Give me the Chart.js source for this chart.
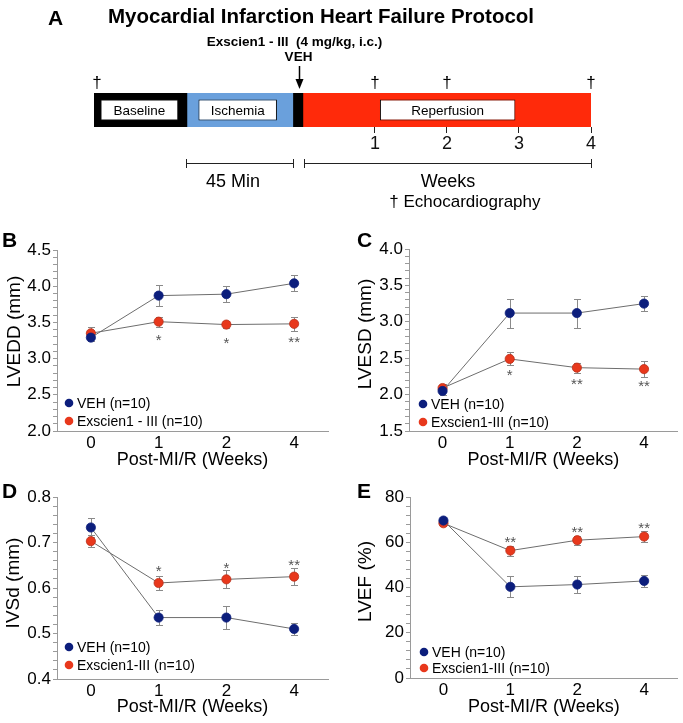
<!DOCTYPE html>
<html>
<head>
<meta charset="utf-8">
<script src="https://cdn.jsdelivr.net/npm/chart.js@4.4.0/dist/chart.umd.min.js"></script>
<style>
  body { margin: 0; background: #fff; width: 683px; height: 723px; position: relative; overflow: hidden;
         font-family: "Liberation Sans", Arial, sans-serif; }
  canvas { position: absolute; }
  .lt { position: absolute; font-weight: bold; font-size: 21px; line-height: 1; color: #000; }
</style>
</head>
<body>
<canvas id="cA" width="683" height="220" style="left:0;top:0"></canvas>
<canvas id="cB" width="341" height="255" style="left:0;top:225px"></canvas>
<canvas id="cC" width="332" height="255" style="left:351px;top:225px"></canvas>
<canvas id="cD" width="341" height="248" style="left:0;top:475px"></canvas>
<canvas id="cE" width="332" height="248" style="left:351px;top:475px"></canvas>
<div class="lt" style="left:48px;top:7px">A</div>
<div class="lt" style="left:2px;top:229px">B</div>
<div class="lt" style="left:357px;top:229px">C</div>
<div class="lt" style="left:2px;top:480px">D</div>
<div class="lt" style="left:357px;top:480px">E</div>

<script>
Chart.defaults.font.family = '"Liberation Sans", Arial, sans-serif';
Chart.defaults.color = '#000';

// ---- Panel A: protocol timeline (x in weeks, 0 = start of reperfusion) ----
const phaseStart = [-2.9, -1.61, -0.14, 0];
const phaseEnd = [-1.61, -0.14, 0, 4];
const phaseColors = ['#000000', '#6aa0dc', '#000000', '#ff2a0a'];
const boxLabels = ['Baseline', 'Ischemia', 'Reperfusion'];
const boxStart = [-2.81, -1.45, 1.07];
const boxEnd = [-1.73, -0.36, 2.95];
const weekTicks = [1, 2, 3, 4];
const echoWeeks = [-2.86, 1, 2, 4];
const doseWeek = -0.06;
const spanStart = [-1.62, 0.01];
const spanEnd = [-0.14, 4];
const spanLabels = ['45 Min', 'Weeks'];

// ---- Panels B-E ----
const weeks = ['0', '1', '2', '4'];
const vehLabel = 'VEH (n=10)';

const lveddVeh = [3.29, 3.87, 3.89, 4.04];
const lveddVehErr = [0.05, 0.15, 0.11, 0.11];
const lveddExs = [3.35, 3.51, 3.47, 3.48];
const lveddExsErr = [0.08, 0.07, 0.05, 0.10];
const lveddStars = ['', '*', '*', '**'];

const lvesdVeh = [2.05, 3.12, 3.12, 3.25];
const lvesdVehErr = [0.05, 0.20, 0.20, 0.10];
const lvesdExs = [2.09, 2.49, 2.37, 2.35];
const lvesdExsErr = [0.05, 0.09, 0.07, 0.11];
const lvesdStars = ['', '*', '**', '**'];

const ivsdVeh = [0.733, 0.535, 0.535, 0.510];
const ivsdVehErr = [0.021, 0.016, 0.026, 0.013];
const ivsdExs = [0.703, 0.611, 0.619, 0.625];
const ivsdExsErr = [0.013, 0.015, 0.020, 0.018];
const ivsdStars = ['', '*', '*', '**'];

const lvefVeh = [69.6, 40.3, 41.3, 42.9];
const lvefVehErr = [1.3, 4.7, 3.7, 2.8];
const lvefExs = [68.4, 56.3, 60.9, 62.5];
const lvefExsErr = [1.0, 2.2, 2.0, 2.3];
const lvefStars = ['', '**', '**', '**'];

const navy = '#0c1e7c';
const red = '#e8381c';
const axisGray = '#9a9a9a';

// protocol diagram
const protocolText = {
  id: 'protocolText',
  afterDraw(chart) {
    const ctx = chart.ctx, x = chart.scales.x, area = chart.chartArea;
    ctx.save();
    ctx.fillStyle = '#000';
    ctx.textBaseline = 'middle';
    ctx.textAlign = 'left';
    ctx.font = 'bold 20.5px "Liberation Sans", Arial';
    ctx.fillText('Myocardial Infarction Heart Failure Protocol', 108, 17);

    ctx.textAlign = 'center';
    ctx.font = '13.5px "Liberation Sans", Arial';
    boxLabels.forEach((t, i) => {
      ctx.fillText(t, x.getPixelForValue((boxStart[i] + boxEnd[i]) / 2), (area.top + area.bottom) / 2 + 1);
    });

    // dose arrow
    const ax = Math.round(x.getPixelForValue(doseWeek)) + 0.5;
    ctx.font = 'bold 13.5px "Liberation Sans", Arial';
    ctx.fillText('Exscien1 - III  (4 mg/kg, i.c.)', ax - 5, 42);
    ctx.fillText('VEH', ax - 1, 57);
    ctx.strokeStyle = '#000';
    ctx.lineWidth = 1.5;
    ctx.beginPath(); ctx.moveTo(ax, 66); ctx.lineTo(ax, 81); ctx.stroke();
    ctx.beginPath(); ctx.moveTo(ax - 4, 79); ctx.lineTo(ax + 4, 79); ctx.lineTo(ax, 89); ctx.closePath(); ctx.fill();

    // echocardiography marks
    ctx.textBaseline = 'alphabetic';
    ctx.font = '17px "Liberation Sans", Arial';
    echoWeeks.forEach(w => ctx.fillText('\u2020', x.getPixelForValue(w), 88));

    // duration brackets
    ctx.strokeStyle = '#222';
    ctx.lineWidth = 1;
    ctx.textBaseline = 'middle';
    ctx.font = '18px "Liberation Sans", Arial';
    spanLabels.forEach((t, i) => {
      const a = Math.round(x.getPixelForValue(spanStart[i])) + 0.5;
      const b = Math.round(x.getPixelForValue(spanEnd[i])) + 0.5;
      ctx.beginPath();
      ctx.moveTo(a, 163.5); ctx.lineTo(b, 163.5);
      ctx.moveTo(a, 159); ctx.lineTo(a, 168);
      ctx.moveTo(b, 159); ctx.lineTo(b, 168);
      ctx.stroke();
      ctx.fillText(t, (a + b) / 2 - (i === 0 ? 7 : 0), 182);
    });
    ctx.textAlign = 'left';
    ctx.font = '17px "Liberation Sans", Arial';
    ctx.fillText('\u2020 Echocardiography', x.getPixelForValue(1.2), 202);
    ctx.restore();
  }
};

new Chart(document.getElementById('cA'), {
  type: 'bar',
  data: {
    labels: ['protocol'],
    datasets: [
      ...boxLabels.map((t, i) => ({
        label: t, data: [[boxStart[i], boxEnd[i]]], backgroundColor: '#ffffff',
        borderColor: '#111', borderWidth: 1, borderSkipped: false,
        grouped: false, barPercentage: 0.62, categoryPercentage: 1, order: 0
      })),
      ...phaseColors.map((c, i) => ({
        label: 'phase' + i, data: [[phaseStart[i], phaseEnd[i]]], backgroundColor: c,
        borderWidth: 0, grouped: false, barPercentage: 1, categoryPercentage: 1, order: 1
      }))
    ]
  },
  options: {
    indexAxis: 'y',
    responsive: false,
    animation: false,
    layout: { padding: { left: 94, right: 92, top: 93, bottom: 0 } },
    plugins: { legend: { display: false }, tooltip: { enabled: false } },
    scales: {
      y: { display: false },
      x: {
        type: 'linear', min: -2.9, max: 4,
        afterBuildTicks(s) { s.ticks = weekTicks.map(v => ({ value: v })); },
        afterFit(s) { s.height = 93; },
        grid: { display: true, drawOnChartArea: false, drawTicks: true, tickLength: 6, color: '#222' },
        border: { display: false },
        ticks: { autoSkip: false, maxRotation: 0, padding: 0, color: '#111', font: { size: 18 } }
      }
    }
  },
  plugins: [protocolText]
});

// error bars, significance marks, y title and inset legend for the line panels
const errorBars = {
  id: 'errorBars',
  beforeDatasetsDraw(chart) {
    const ctx = chart.ctx, y = chart.scales.y;
    ctx.save();
    ctx.strokeStyle = '#8a8a8a';
    ctx.lineWidth = 1;
    chart.data.datasets.forEach((ds, i) => {
      chart.getDatasetMeta(i).data.forEach((pt, j) => {
        const v = ds.data[j], e = ds.errors[j];
        const px = Math.round(pt.x) + 0.5;
        const t = Math.round(y.getPixelForValue(v + e)) + 0.5;
        const b = Math.round(y.getPixelForValue(v - e)) + 0.5;
        ctx.beginPath();
        ctx.moveTo(px, t); ctx.lineTo(px, b);
        ctx.moveTo(px - 3.5, t); ctx.lineTo(px + 3.5, t);
        ctx.moveTo(px - 3.5, b); ctx.lineTo(px + 3.5, b);
        ctx.stroke();
      });
    });
    ctx.restore();
  }
};

const marks = {
  id: 'marks',
  afterDraw(chart) {
    const ctx = chart.ctx, o = chart.options.plugins.marks, area = chart.chartArea;
    ctx.save();
    ctx.fillStyle = '#555';
    ctx.textAlign = 'center';
    ctx.textBaseline = 'alphabetic';
    ctx.font = '15px "Liberation Sans", Arial';
    chart.getDatasetMeta(1).data.forEach((pt, j) => {
      if (o.stars[j]) ctx.fillText(o.stars[j], pt.x, pt.y + o.starDy + 8.5);
    });
    // legend inside the plot, lower left
    ctx.font = '14px "Liberation Sans", Arial';
    ctx.textAlign = 'left';
    ctx.textBaseline = 'middle';
    chart.data.datasets.forEach((ds, i) => {
      const lx = area.left + o.legendDx, ly = area.bottom - o.legendDy[i];
      ctx.fillStyle = ds.pointBackgroundColor;
      ctx.beginPath(); ctx.arc(lx, ly, 4.3, 0, Math.PI * 2); ctx.fill();
      ctx.fillStyle = '#000';
      ctx.fillText(ds.label, lx + 8, ly + 1);
    });
    // y axis title, sitting a little above the plot centre as in the figure
    ctx.fillStyle = '#000';
    ctx.textAlign = 'center';
    ctx.font = '19px "Liberation Sans", Arial';
    ctx.translate(o.yTitleX, (area.top + area.bottom) / 2 + o.yTitleDy);
    ctx.rotate(-Math.PI / 2);
    ctx.fillText(o.yTitle, 0, 0);
    ctx.restore();
  }
};

function panel(id, p) {
  const isMajor = v => Math.abs(v / p.major - Math.round(v / p.major)) < 1e-6;
  new Chart(document.getElementById(id), {
    type: 'line',
    data: {
      labels: weeks,
      datasets: [
        { label: vehLabel, data: p.veh, errors: p.vehErr,
          borderColor: '#6d6d6d', borderWidth: 1,
          pointBackgroundColor: navy, pointBorderColor: navy, pointBorderWidth: 0.8, pointRadius: 4.6 },
        { label: p.exsLabel, data: p.exs, errors: p.exsErr,
          borderColor: '#6d6d6d', borderWidth: 1,
          pointBackgroundColor: red, pointBorderColor: '#b8301a', pointBorderWidth: 0.8, pointRadius: 4.6 }
      ]
    },
    options: {
      responsive: false,
      animation: false,
      layout: { padding: { top: p.padTop, right: p.padRight, left: 0, bottom: 0 } },
      plugins: {
        legend: { display: false }, tooltip: { enabled: false },
        marks: { stars: p.stars, starDy: p.starDy, legendDx: p.legendDx, legendDy: p.legendDy,
                 yTitle: p.yTitle, yTitleX: p.yTitleX, yTitleDy: p.yTitleDy }
      },
      scales: {
        x: {
          type: 'category', offset: true,
          afterFit(s) { s.height = p.xHeight; },
          grid: { display: false, drawTicks: false },
          border: { display: true, color: axisGray, width: 1 },
          ticks: { padding: 2, font: { size: 17 } },
          title: { display: true, text: 'Post-MI/R (Weeks)', font: { size: 18 },
                   padding: { top: 0, bottom: p.titlePadB } }
        },
        y: {
          min: p.min, max: p.max,
          afterFit(s) { s.width = p.yWidth; },
          grid: { drawOnChartArea: false, drawTicks: true, tickLength: 4, color: axisGray },
          border: { display: true, color: axisGray, width: 1 },
          ticks: { stepSize: p.minor, autoSkip: false, maxTicksLimit: 200, padding: 2, font: { size: 17 },
                   callback: v => isMajor(v) ? v.toFixed(p.dec) : '' }
        }
      }
    },
    plugins: [errorBars, marks]
  });
}

panel('cB', { yTitle: 'LVEDD (mm)', min: 2.0, max: 4.5, minor: 0.1, major: 0.5, dec: 1,
  veh: lveddVeh, vehErr: lveddVehErr, exs: lveddExs, exsErr: lveddExsErr,
  exsLabel: 'Exscien1 - III (n=10)', stars: lveddStars, starDy: 15,
  yWidth: 57, padTop: 25, padRight: 13, xHeight: 49, titlePadB: 9,
  yTitleX: 15, yTitleDy: -9, legendDx: 12, legendDy: [28, 10] });

panel('cC', { yTitle: 'LVESD (mm)', min: 1.5, max: 4.0, minor: 0.1, major: 0.5, dec: 1,
  veh: lvesdVeh, vehErr: lvesdVehErr, exs: lvesdExs, exsErr: lvesdExsErr,
  exsLabel: 'Exscien1-III (n=10)', stars: lvesdStars, starDy: 13,
  yWidth: 58, padTop: 24, padRight: 0, xHeight: 49, titlePadB: 9,
  yTitleX: 15, yTitleDy: -6, legendDx: 14, legendDy: [27, 9] });

panel('cD', { yTitle: 'IVSd (mm)', min: 0.4, max: 0.8, minor: 0.02, major: 0.1, dec: 1,
  veh: ivsdVeh, vehErr: ivsdVehErr, exs: ivsdExs, exsErr: ivsdExsErr,
  exsLabel: 'Exscien1-III (n=10)', stars: ivsdStars, starDy: -15,
  yWidth: 57, padTop: 22, padRight: 13, xHeight: 44, titlePadB: 5,
  yTitleX: 14, yTitleDy: -5, legendDx: 12, legendDy: [32, 14] });

panel('cE', { yTitle: 'LVEF (%)', min: 0, max: 80, minor: 4, major: 20, dec: 0,
  veh: lvefVeh, vehErr: lvefVehErr, exs: lvefExs, exsErr: lvefExsErr,
  exsLabel: 'Exscien1-III (n=10)', stars: lvefStars, starDy: -12,
  yWidth: 59, padTop: 22, padRight: 0, xHeight: 45, titlePadB: 5,
  yTitleX: 15, yTitleDy: -6, legendDx: 14, legendDy: [26, 10] });
</script>
</body>
</html>
